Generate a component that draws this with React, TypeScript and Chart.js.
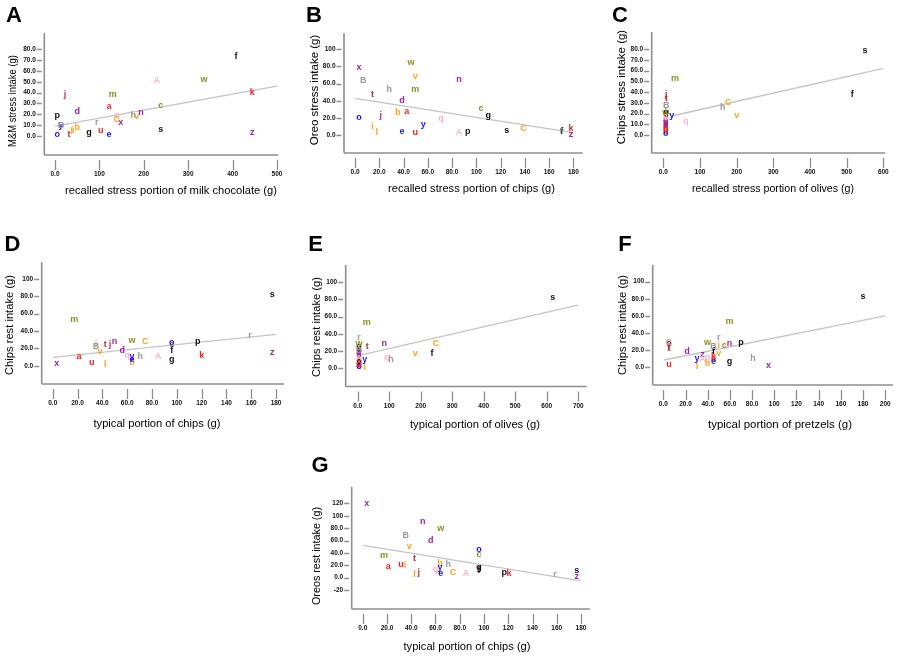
import React, { useEffect, useRef } from "react";
import { Chart, registerables } from "chart.js";
Chart.register(...registerables);

// participant codes (same order in every series)
const participants = ["a","b","c","d","e","f","g","h","i","j","k","l","m","n","o","p","q","r","s","t","u","v","w","x","y","z","A","B","C"];

// Panel A: recalled stress portion of milk chocolate vs M&M stress intake
const aX = [121.6,50.3,238,50.3,121.6,407.7,76.6,176.4,41.3,22.5,444.4,38,129.9,193.7,5,5.2,139,93.8,238,31.5,102.9,184,335.6,148,13.5,444.4,229,13.5,139];
const aY = [27,8,27.7,23,1.8,73.2,3.4,18.5,4.9,38.7,40.3,4,38.7,21.8,1.8,18.5,18.5,12.3,6.2,1.8,5.5,17.8,51.7,12.3,10.1,3.4,51,10.1,14.8];
// Panel B: recalled stress portion of chips vs Oreo stress intake
const bX = [42.6,35.2,103.9,38.7,38.7,170.4,109.9,28.3,14.3,21.2,178,17.9,49.7,85.7,3.3,92.9,70.9,170,125,14.3,49.7,49.7,46.2,3.3,56.3,178,85.7,6.8,138.8];
const bY = [27.2,26.5,31.1,39.7,3.9,3.9,23.3,53.3,9.7,23.3,7,3.1,53.3,64.2,20.2,3.9,18.7,5,4.7,46.7,3.1,68.8,84.4,78.5,12.8,0.8,3.1,63,7];
// Panel C: recalled stress portion of olives vs Chips stress intake
const cX = [7,7,8,7,7,515.5,7,162,7,8,7,7,32,7,7,8,61.9,8,550,8,7,200,7,7,22.9,7,7,8,177.3];
const cY = [9,6,19,14,3,37.8,20,25.4,4,38,7,2.5,52.4,12,1.5,21,13,24,78.4,34,5,17.7,20.5,11,18,9.5,16,27,30];
// Panel D: typical portion of chips vs Chips rest intake
const dX = [21.2,63.9,95.9,56.1,63.9,95.9,95.9,70.6,34.9,46.2,120.1,42.4,17.4,49.7,95.9,116.9,60.1,159,177,42.4,31.4,38.1,63.9,3.2,63.9,177,85.1,34.9,74.6];
const dY = [10.4,3.5,23.9,18.1,7.3,17.3,6.6,10.8,25,24.2,11.2,1.2,53.5,28.1,27,27.7,12.3,35.4,82.3,25,3.5,15.8,29.6,2,10.4,15.4,10.4,21.9,27.7];
// Panel E: typical portion of olives vs Chips rest intake
const eX = [4,4,4,4,4,235.8,4,105.7,4,4,4,22.1,28.4,84.5,4,4,91.9,4.1,618.7,30.6,4,182.9,4,4,22.1,4,4,4,248.4];
const eY = [6.4,3.5,22.4,17.4,2.4,17.4,25.2,10.4,12,14,5,0.7,53,28.3,1.5,8,12.4,35.6,82.1,25.1,4.4,16.6,29,15.4,10.4,19.5,11,21,28.3];
// Panel F: typical portion of pretzels vs Chips rest intake
const fX = [45.1,39.7,54.8,21.4,45.1,45.1,59.6,80.7,50,5.1,45.1,30.4,59.6,59.6,5.1,69.9,39.7,50,180,5.1,5.1,50,39.7,94.8,30.4,35.2,35.2,45.1,5.1];
const fY = [10,4.6,25.3,18.2,6.6,18.2,6.6,10.5,24.9,25,12.4,0.7,53.3,28,27.5,28.8,11.7,35,82.5,22.5,3.5,16.3,29.2,1.9,10.5,15.5,9.3,24.1,29];
// Panel G: typical portion of chips vs Oreos rest intake
const gX = [21.1,63.7,95.9,56.1,64.3,95.9,95.9,70.6,34.9,46.2,120.6,42.6,17.6,49.5,95.9,116.7,59.9,158.5,176.4,42.6,31.6,38.4,64.3,3.3,63.7,176.4,85.2,35.4,74.4];
const gY = [17.7,22.1,38.2,59.2,6,11.3,16.1,20.5,20,8.6,7,4.4,35.5,90.3,44.7,8.6,13.5,5.4,11.3,30.2,21.6,51.1,79.6,118.9,16.7,1.7,6,67.3,8.1];

// fit line end points [x, y]
const fitA = [[0, 9.2], [500, 46]];
const fitB = [[0, 42.8], [180, 2.7]];
const fitC = [[23, 17.7], [600, 62]];
const fitD = [[0, 9.7], [180, 36.2]];
const fitE = [[12.7, 15.5], [698, 73.3]];
const fitF = [[0.6, 8.5], [200, 60]];
const fitG = [[0.5, 52.3], [180, -5.3]];

// tick values and labels
const ticks0to500 = [0, 100, 200, 300, 400, 500];
const labels0to500 = ["0.0", "100", "200", "300", "400", "500"];
const ticks0to180 = [0, 20, 40, 60, 80, 100, 120, 140, 160, 180];
const labels0to180 = ["0.0", "20.0", "40.0", "60.0", "80.0", "100", "120", "140", "160", "180"];
const ticks0to600 = [0, 100, 200, 300, 400, 500, 600];
const labels0to600 = ["0.0", "100", "200", "300", "400", "500", "600"];
const ticks0to700 = [0, 100, 200, 300, 400, 500, 600, 700];
const labels0to700 = ["0.0", "100", "200", "300", "400", "500", "600", "700"];
const ticks0to200 = [0, 20, 40, 60, 80, 100, 120, 140, 160, 180, 200];
const labels0to200 = ["0.0", "20.0", "40.0", "60.0", "80.0", "100", "120", "140", "160", "180", "200"];
const yTicks0to80by10 = [0, 10, 20, 30, 40, 50, 60, 70, 80];
const yLabels0to80by10 = ["0.0", "10.0", "20.0", "30.0", "40.0", "50.0", "60.0", "70.0", "80.0"];
const yTicks0to100 = [0, 20, 40, 60, 80, 100];
const yLabels0to100 = ["0.0", "20.0", "40.0", "60.0", "80.0", "100"];
const yTicksM20to120 = [-20, 0, 20, 40, 60, 80, 100, 120];
const yLabelsM20to120 = ["-20", "0.0", "20.0", "40.0", "60.0", "80.0", "100", "120"];

const letterColors: Record<string, string> = {
  e: "#1414ff", o: "#1414ff", y: "#1414ff",
  a: "#ff1a1a", u: "#ff1a1a", k: "#ff1a1a",
  j: "#d42a4a", t: "#b8282e",
  d: "#a01fa8", n: "#a01fa8", x: "#a01fa8", z: "#a01fa8",
  b: "#ffa31a", i: "#ffa31a", l: "#ffa31a", v: "#ffa31a", C: "#ffa31a",
  m: "#8f8f1f", w: "#8f8f1f", c: "#8f8f1f",
  f: "#111111", g: "#111111", p: "#111111", s: "#111111",
  h: "#9a9a9a", B: "#9a9a9a", r: "#9a9a9a",
  A: "#ffb3c6", q: "#ffb3c6",
};

type Spec = {
  id: string; xs: number[]; ys: number[]; fit: number[][];
  xTicks: number[]; xLabels: string[]; yTicks: number[]; yLabels: string[];
  xTitle: string; yTitle: string;
  canvas: { l: number; t: number; w: number; h: number };
  area: { l: number; t: number; r: number; b: number };
  xr: [number, number]; yr: [number, number];
  tag: [number, number];
  xT: [number, number, number]; yT: [number, number, number];
};

const panels: Spec[] = [
  { id: "A", xs: aX, ys: aY, fit: fitA, xTicks: ticks0to500, xLabels: labels0to500, yTicks: yTicks0to80by10, yLabels: yLabels0to80by10,
    xTitle: "recalled stress portion of milk chocolate (g)", yTitle: "M&M stress intake (g)",
    canvas: { l: 0, t: 0, w: 290, h: 200 }, area: { l: 44.3, t: 33, r: 278.3, b: 155 }, xr: [-24.1, 503], yr: [-17.5, 95],
    tag: [14, 15], xT: [171, 191, 212], yT: [12.5, 101, 92] },
  { id: "B", xs: bX, ys: bY, fit: fitB, xTicks: ticks0to180, xLabels: labels0to180, yTicks: yTicks0to100, yLabels: yLabels0to100,
    xTitle: "recalled stress portion of chips (g)", yTitle: "Oreo stress intake (g)",
    canvas: { l: 290, t: 0, w: 300, h: 200 }, area: { l: 344, t: 33, r: 582.7, b: 153 }, xr: [-9.1, 187.7], yr: [-21, 119],
    tag: [314, 15], xT: [471.5, 189, 167], yT: [315, 90, 113] },
  { id: "C", xs: cX, ys: cY, fit: fitC, xTicks: ticks0to600, xLabels: labels0to600, yTicks: yTicks0to80by10, yLabels: yLabels0to80by10,
    xTitle: "recalled stress portion of olives (g)", yTitle: "Chips stress intake (g)",
    canvas: { l: 590, t: 0, w: 308, h: 200 }, area: { l: 651.7, t: 32, r: 885, b: 153 }, xr: [-31.6, 604.6], yr: [-16.7, 95.8],
    tag: [620, 15], xT: [773, 189, 162], yT: [621.7, 87, 118] },
  { id: "D", xs: dX, ys: dY, fit: fitD, xTicks: ticks0to180, xLabels: labels0to180, yTicks: yTicks0to100, yLabels: yLabels0to100,
    xTitle: "typical portion of chips (g)", yTitle: "Chips rest intake (g)",
    canvas: { l: 0, t: 200, w: 290, h: 235 }, area: { l: 41.7, t: 262.3, r: 284, b: 384 }, xr: [-8.9, 186.4], yr: [-21.1, 119.3],
    tag: [12.5, 244], xT: [157, 424, 127], yT: [10, 325, 100] },
  { id: "E", xs: eX, ys: eY, fit: fitE, xTicks: ticks0to700, xLabels: labels0to700, yTicks: yTicks0to100, yLabels: yLabels0to100,
    xTitle: "typical portion of olives (g)", yTitle: "Chips rest intake (g)",
    canvas: { l: 290, t: 200, w: 300, h: 235 }, area: { l: 345.7, t: 265, r: 586.7, b: 386.5 }, xr: [-38, 726.6], yr: [-21.2, 120],
    tag: [315.5, 244], xT: [475, 425, 130], yT: [316.7, 327, 100] },
  { id: "F", xs: fX, ys: fY, fit: fitF, xTicks: ticks0to200, xLabels: labels0to200, yTicks: yTicks0to100, yLabels: yLabels0to100,
    xTitle: "typical portion of pretzels (g)", yTitle: "Chips rest intake (g)",
    canvas: { l: 590, t: 200, w: 308, h: 235 }, area: { l: 652.7, t: 265, r: 893, b: 385 }, xr: [-9.6, 207], yr: [-20.7, 119.5],
    tag: [625, 244], xT: [780, 425, 144], yT: [623, 325, 100] },
  { id: "G", xs: gX, ys: gY, fit: fitG, xTicks: ticks0to180, xLabels: labels0to180, yTicks: yTicksM20to120, yLabels: yLabelsM20to120,
    xTitle: "typical portion of chips (g)", yTitle: "Oreos rest intake (g)",
    canvas: { l: 280, t: 440, w: 330, h: 216 }, area: { l: 351.7, t: 486.7, r: 590, b: 609 }, xr: [-9.1, 187.4], yr: [-50.5, 146.8],
    tag: [320, 465], xT: [467, 646.5, 127], yT: [316.7, 556, 98] },
];

const AXIS = "#8e8e8e";

function makePlugin(spec: Spec) {
  const ox = spec.canvas.l, oy = spec.canvas.t;
  return {
    id: "panelDecor" + spec.id,
    beforeDatasetsDraw(chart: any) {
      const ctx = chart.ctx as CanvasRenderingContext2D;
      const { left, right, top, bottom } = chart.chartArea;
      const xs = chart.scales.x, ys = chart.scales.y;
      ctx.save();
      ctx.strokeStyle = AXIS;
      ctx.lineWidth = 1.6;
      ctx.beginPath();
      ctx.moveTo(left, top); ctx.lineTo(left, bottom);
      ctx.moveTo(left, bottom); ctx.lineTo(right, bottom);
      ctx.stroke();
      ctx.lineWidth = 1.3;
      ctx.beginPath();
      spec.xTicks.forEach((v) => {
        const px = Math.round(xs.getPixelForValue(v)) + 0.5;
        ctx.moveTo(px, bottom + 5); ctx.lineTo(px, bottom + 15);
      });
      spec.yTicks.forEach((v) => {
        const py = Math.round(ys.getPixelForValue(v)) + 0.5;
        ctx.moveTo(left - 7.5, py); ctx.lineTo(left - 2.5, py);
      });
      ctx.stroke();
      ctx.fillStyle = "#111";
      ctx.font = "bold 6.5px Arial";
      ctx.textAlign = "center";
      ctx.textBaseline = "middle";
      spec.xTicks.forEach((v, i) => {
        ctx.fillText(spec.xLabels[i], xs.getPixelForValue(v), bottom + 19.5);
      });
      ctx.textAlign = "right";
      spec.yTicks.forEach((v, i) => {
        ctx.fillText(spec.yLabels[i], left - 8.5, ys.getPixelForValue(v));
      });
      // titles
      ctx.font = "11.5px Arial";
      ctx.textAlign = "center";
      ctx.fillStyle = "#000";
      ctx.fillText(spec.xTitle, spec.xT[0] - ox, spec.xT[1] - oy, spec.xT[2]);
      ctx.save();
      ctx.translate(spec.yT[0] - ox, spec.yT[1] - oy);
      ctx.rotate(-Math.PI / 2);
      ctx.fillText(spec.yTitle, 0, 0, spec.yT[2]);
      ctx.restore();
      // panel tag
      ctx.font = "bold 22px Arial";
      ctx.fillText(spec.id, spec.tag[0] - ox, spec.tag[1] - oy + 1);
      ctx.restore();
    },
    afterDatasetsDraw(chart: any) {
      const ctx = chart.ctx as CanvasRenderingContext2D;
      const meta = chart.getDatasetMeta(1);
      ctx.save();
      ctx.font = "bold 9px Arial";
      ctx.textAlign = "center";
      ctx.textBaseline = "middle";
      meta.data.forEach((el: any, i: number) => {
        const ch = participants[i];
        ctx.fillStyle = letterColors[ch] || "#000";
        ctx.fillText(ch, el.x, el.y);
      });
      ctx.restore();
    },
  };
}

function Panel({ spec }: { spec: Spec }) {
  const ref = useRef<HTMLCanvasElement>(null);
  useEffect(() => {
    const c = spec.canvas, a = spec.area;
    const chart = new Chart(ref.current as HTMLCanvasElement, {
      type: "scatter",
      data: {
        datasets: [
          {
            type: "line",
            data: spec.fit.map((p) => ({ x: p[0], y: p[1] })),
            borderColor: "#c4c4c4",
            borderWidth: 1.3,
            pointRadius: 0,
            fill: false,
          } as any,
          {
            data: spec.xs.map((x, i) => ({ x, y: spec.ys[i] })),
            pointRadius: 0,
            backgroundColor: "transparent",
          },
        ],
      },
      options: {
        responsive: false,
        animation: false,
        devicePixelRatio: 1,
        events: [],
        layout: {
          padding: { left: a.l - c.l, top: a.t - c.t, right: c.l + c.w - a.r, bottom: c.t + c.h - a.b },
        },
        plugins: { legend: { display: false }, tooltip: { enabled: false } },
        scales: {
          x: { type: "linear", display: false, min: spec.xr[0], max: spec.xr[1] },
          y: { type: "linear", display: false, min: spec.yr[0], max: spec.yr[1] },
        },
      },
      plugins: [makePlugin(spec)],
    });
    return () => chart.destroy();
  }, [spec]);
  const c = spec.canvas;
  return (
    <canvas
      ref={ref}
      width={c.w}
      height={c.h}
      style={{ position: "absolute", left: c.l, top: c.t, width: c.w, height: c.h }}
    />
  );
}

export default function App() {
  return (
    <div style={{ position: "fixed", left: 0, top: 0, width: 898, height: 656, background: "#fff", overflow: "hidden" }}>
      {panels.map((p) => (
        <Panel key={p.id} spec={p} />
      ))}
    </div>
  );
}
